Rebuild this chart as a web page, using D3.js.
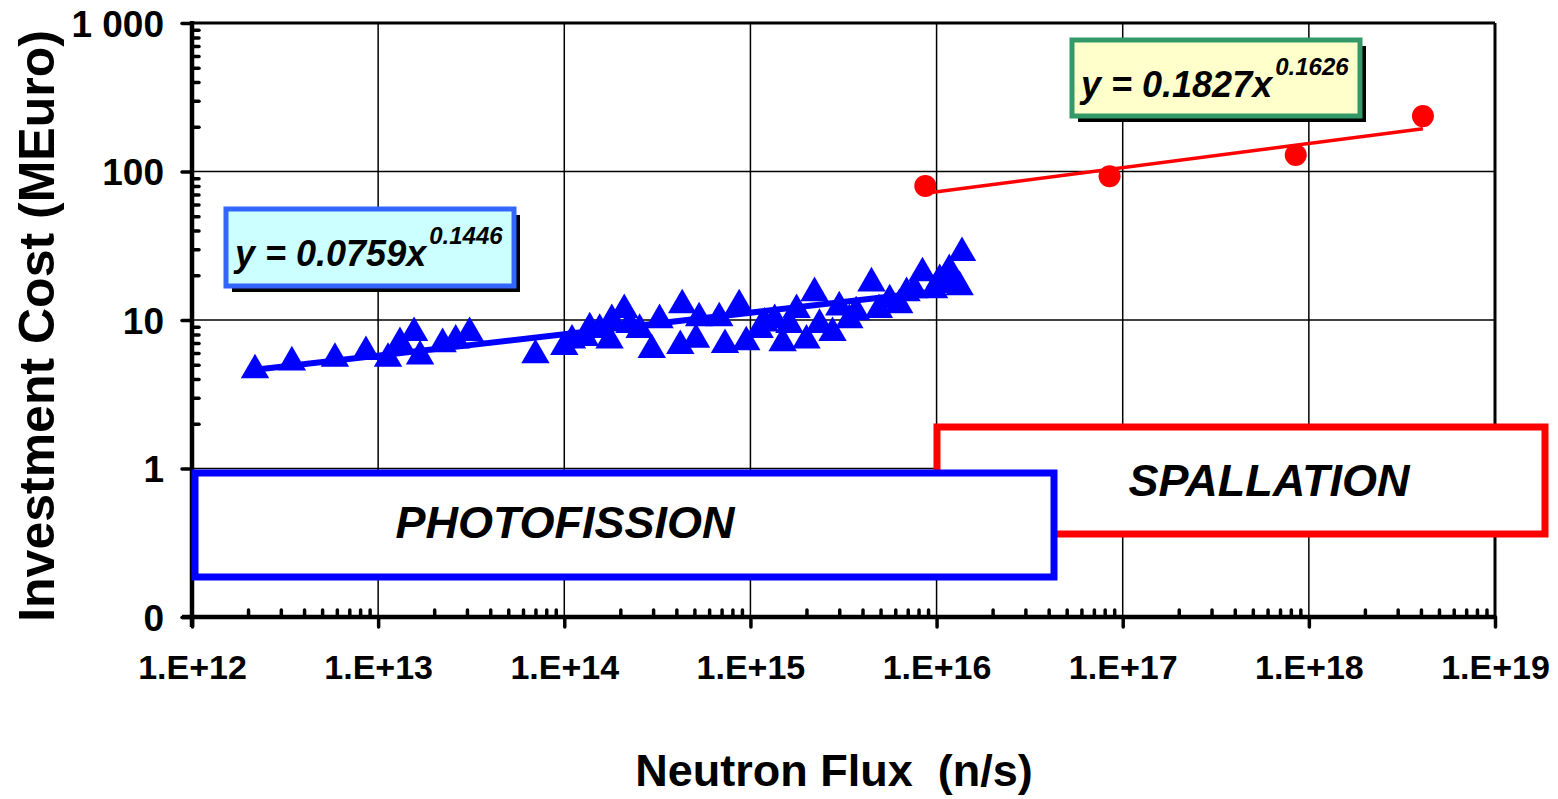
<!DOCTYPE html>
<html>
<head>
<meta charset="utf-8">
<script src="https://cdn.jsdelivr.net/npm/d3@7"></script>
<style>
  body { margin: 0; background: #fff; }
  svg text { font-family: "Liberation Sans", Arial, sans-serif; }
</style>
</head>
<body>
<svg id="chart" width="1558" height="799"></svg>
<script>
// photofission sources: flux (n/s), cost (MEuro)
let photoFlux = [2.18e12, 3.44e12, 5.86e12, 8.6e12, 1.13e13, 1.31e13, 1.56e13, 1.68e13, 2.22e13, 2.61e13, 3.1e13,
    7.0e13, 1.0e14, 1.1e14, 1.29e14, 1.37e14, 1.55e14, 1.75e14, 1.8e14, 2.1e14, 2.24e14, 2.54e14, 2.95e14, 3.25e14,
    4.2e14, 4.3e14, 5.1e14, 5.3e14, 6.8e14, 7.3e14, 8.7e14, 9.5e14, 1.12e15, 1.19e15, 1.35e15, 1.49e15, 1.62e15,
    1.77e15, 2.0e15, 2.21e15, 2.35e15, 2.76e15, 3.0e15, 3.4e15, 3.7e15, 4.47e15, 4.9e15, 5.6e15, 6.3e15, 6.9e15,
    7.6e15, 8.4e15, 9.7e15, 1.04e16, 1.17e16, 1.25e16, 1.33e16, 1.37e16];
let photoCost = [4.6, 5.2, 5.5, 6.1, 5.5, 7.0, 8.2, 5.7, 6.9, 7.3, 8.2,
    5.8, 6.6, 7.3, 7.6, 8.8, 8.6, 7.3, 10, 11.7, 9.3, 8.6, 6.3, 10,
    6.7, 12.6, 7.4, 10.3, 10.3, 6.8, 12.6, 7.1, 8.6, 9.5, 10, 7.0, 9.3,
    11.7, 7.3, 15.2, 9.3, 8.2, 12.2, 10, 11.3, 17.7, 11.7, 13.6, 12.6, 15.2,
    15.9, 20.7, 15.9, 18.6, 21.7, 18, 16.7, 28.3];

// spallation sources
let spallFlux = [8.7e15, 8.5e16, 8.5e17, 4.1e18];
let spallCost = [80, 93, 129, 236];

// power law fits
let photoFit = [0.0759, 0.1446];
let spallFit = [0.1827, 0.1626];

let xTicks = [1e12, 1e13, 1e14, 1e15, 1e16, 1e17, 1e18, 1e19];
let xTickLabels = ["1.E+12", "1.E+13", "1.E+14", "1.E+15", "1.E+16", "1.E+17", "1.E+18", "1.E+19"];
let yTicks = [0.1, 1, 10, 100, 1000];
let yTickLabels = ["0", "1", "10", "100", "1 000"];

let plotL = 192, plotR = 1495, plotT = 23, plotB = 617;

let x = d3.scaleLog().domain([1e12, 1e19]).range([plotL, plotR]);
let y = d3.scaleLog().domain([0.1, 1000]).range([plotB, plotT]);

let svg = d3.select("#chart");

// minor tick values (2..9 per decade)
let xMinor = x.ticks().filter(function(d) { return xTicks.indexOf(d) < 0; });
let yMinor = y.ticks().filter(function(d) { return yTicks.indexOf(d) < 0; });

// grid
svg.append("g")
    .selectAll("line")
    .data(xTicks)
    .enter().append("line")
    .attr("x1", function(d) { return x(d); })
    .attr("x2", function(d) { return x(d); })
    .attr("y1", plotT).attr("y2", plotB)
    .attr("stroke", "#000").attr("stroke-width", 1.5);

svg.append("g")
    .selectAll("line")
    .data(yTicks)
    .enter().append("line")
    .attr("x1", plotL).attr("x2", plotR)
    .attr("y1", function(d) { return y(d); })
    .attr("y2", function(d) { return y(d); })
    .attr("stroke", "#000").attr("stroke-width", 1.5);

// frame top/right
svg.append("line").attr("x1", plotL).attr("x2", plotR).attr("y1", plotT).attr("y2", plotT)
    .attr("stroke", "#000").attr("stroke-width", 3);
svg.append("line").attr("x1", plotR).attr("x2", plotR).attr("y1", plotT).attr("y2", plotB)
    .attr("stroke", "#000").attr("stroke-width", 3);

// axes
let xAxis = svg.append("g")
    .attr("transform", "translate(0," + plotB + ")")
    .call(d3.axisBottom(x).tickValues(xTicks).tickSize(10).tickPadding(28)
        .tickFormat(function(d, i) { return xTickLabels[i]; }));
xAxis.select(".domain").remove();

let xMinorAxis = svg.append("g")
    .attr("transform", "translate(0," + plotB + ")")
    .call(d3.axisTop(x).tickValues(xMinor).tickSize(7).tickFormat(""));
xMinorAxis.select(".domain").remove();

let yAxis = svg.append("g")
    .attr("transform", "translate(" + plotL + ",0)")
    .call(d3.axisLeft(y).tickValues(yTicks).tickSize(10).tickPadding(18)
        .tickFormat(function(d, i) { return yTickLabels[i]; }));
yAxis.select(".domain").remove();

let yMinorAxis = svg.append("g")
    .attr("transform", "translate(" + plotL + ",0)")
    .call(d3.axisRight(y).tickValues(yMinor).tickSize(7).tickFormat(""));
yMinorAxis.select(".domain").remove();

svg.selectAll(".tick line").attr("stroke", "#000").attr("stroke-width", 3.5).attr("stroke-linecap", "round");

xAxis.selectAll("text")
    .attr("font-size", "34px").attr("font-weight", "bold").attr("fill", "#000");
yAxis.selectAll("text")
    .attr("font-size", "37px").attr("font-weight", "bold").attr("fill", "#000")
    .attr("xml:space", "preserve")
    .attr("dy", "0.36em");

svg.append("line").attr("x1", plotL - 10).attr("x2", plotR).attr("y1", plotB).attr("y2", plotB)
    .attr("stroke", "#000").attr("stroke-width", 4.5);
svg.append("line").attr("x1", plotL).attr("x2", plotL).attr("y1", plotT - 2).attr("y2", plotB + 10)
    .attr("stroke", "#000").attr("stroke-width", 4.5);

// axis titles
svg.append("text")
    .attr("x", 834).attr("y", 786)
    .attr("text-anchor", "middle")
    .attr("font-size", "45px").attr("font-weight", "bold")
    .attr("xml:space", "preserve")
    .text("Neutron Flux  (n/s)");

svg.append("text")
    .attr("transform", "translate(54,326) rotate(-90)")
    .attr("text-anchor", "middle")
    .attr("font-size", "50px").attr("font-weight", "bold")
    .text("Investment Cost (MEuro)");

// region boxes
function regionBox(x0, y0, w, h, color, label, tx, ty) {
    let g = svg.append("g");
    g.append("rect").attr("x", x0).attr("y", y0).attr("width", w).attr("height", h)
        .attr("fill", "#fff").attr("stroke", color).attr("stroke-width", 7);
    g.append("text").attr("x", tx).attr("y", ty)
        .attr("text-anchor", "middle")
        .attr("font-size", "45px").attr("font-weight", "bold").attr("font-style", "italic")
        .text(label);
}
regionBox(937, 427, 608, 107, "#ff0000", "SPALLATION", 1269, 496);
regionBox(195, 473, 859, 104, "#0000ff", "PHOTOFISSION", 565, 538);

// equation boxes
function eqBox(x0, y0, w, h, fill, color, coef, expo) {
    let g = svg.append("g");
    g.append("rect").attr("x", x0 + 6).attr("y", y0 + 6).attr("width", w).attr("height", h).attr("fill", "#000");
    g.append("rect").attr("x", x0).attr("y", y0).attr("width", w).attr("height", h)
        .attr("fill", fill).attr("stroke", color).attr("stroke-width", 5);
    let t = g.append("text").attr("x", x0 + 9).attr("y", y0 + 57)
        .attr("font-size", "36px").attr("font-weight", "bold").attr("font-style", "italic");
    t.append("tspan").text("y = " + coef + "x");
    t.append("tspan").attr("dx", 3).attr("dy", -22).attr("font-size", "24px").text(expo);
}
eqBox(226, 209, 288, 77, "#ccffff", "#3366ff", photoFit[0], photoFit[1]);
eqBox(1072, 40, 288, 76, "#ffffcc", "#339966", spallFit[0], spallFit[1]);

// fit lines
function fitLine(fit, xs, color, w) {
    let ext = d3.extent(xs);
    let pts = [ext[0], ext[1]].map(function(v) { return [x(v), y(fit[0] * Math.pow(v, fit[1]))]; });
    svg.append("path").attr("d", d3.line()(pts))
        .attr("stroke", color).attr("stroke-width", w).attr("fill", "none");
}

// photofission points
svg.append("g").selectAll("path")
    .data(photoFlux)
    .enter().append("path")
    .attr("d", d3.symbol(d3.symbolTriangle, 350))
    .attr("transform", function(d, i) { return "translate(" + x(d) + "," + y(photoCost[i]) + ")"; })
    .attr("fill", "#0000ff");
fitLine(photoFit, photoFlux, "#0000ff", 6);

// spallation points
fitLine(spallFit, spallFlux, "#ff0000", 3.5);
svg.append("g").selectAll("circle")
    .data(spallFlux)
    .enter().append("circle")
    .attr("cx", function(d) { return x(d); })
    .attr("cy", function(d, i) { return y(spallCost[i]); })
    .attr("r", 11)
    .attr("fill", "#ff0000");
</script>
</body>
</html>
